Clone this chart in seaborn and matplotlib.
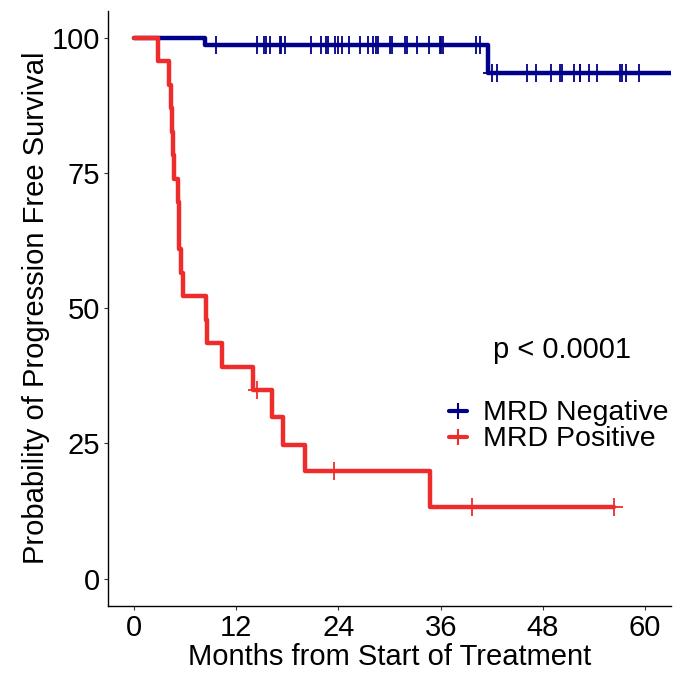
import numpy as np
import pandas as pd
import matplotlib
matplotlib.use("Agg")
import matplotlib.pyplot as plt
import seaborn as sns
from matplotlib.lines import Line2D

# ---------------- data ----------------
groups = ["MRD Negative", "MRD Positive"]
group_colors = ["#00008B", "#EE2C2C"]

neg_step_times = [0, 8.4, 41.6]
neg_step_surv = [100, 98.6, 93.4]
neg_end_time = 66.0
neg_censor_times = [9.6, 14.4, 15.3, 15.5, 16.0, 17.1, 17.3, 17.7, 20.8, 22.0,
                    22.5, 22.8, 23.6, 23.9, 24.4, 25.3, 26.5, 27.5, 28.1, 28.4,
                    28.7, 30.1, 30.3, 31.8, 32.0, 33.2, 34.6, 35.9, 36.1, 36.3,
                    40.1, 40.6, 42.0, 42.6, 46.1, 47.2, 48.9, 50.0, 50.3, 51.7,
                    52.3, 52.4, 53.4, 54.4, 57.0, 57.3, 57.7, 59.3]

pos_step_times = [0, 2.85, 4.1, 4.3, 4.5, 4.6, 4.7, 5.2, 5.25, 5.3, 5.5, 5.8,
                  8.45, 8.6, 10.3, 14.0, 16.2, 17.5, 20.1, 34.7]
pos_step_surv = [100, 95.7, 91.3, 87.0, 82.6, 78.3, 73.9, 69.6, 65.2, 60.9,
                 56.5, 52.2, 47.8, 43.5, 39.1, 34.8, 29.8, 24.8, 19.9, 13.3]
pos_end_time = 56.3
pos_censor_times = [14.4, 23.5, 39.7, 56.3]

x_ticks = [0, 12, 24, 36, 48, 60]
y_ticks = [0, 25, 50, 75, 100]
p_text = "p < 0.0001"
x_title = "Months from Start of Treatment"
y_title = "Probability of Progression Free Survival"

# ---------------- build tables ----------------
def step_frame(times, surv, end, name):
    t = list(times) + [end]
    s = list(surv) + [surv[-1]]
    return pd.DataFrame({"time": t, "surv": s, "group": name})

def censor_frame(ctimes, times, surv, name):
    idx = np.searchsorted(np.asarray(times), np.asarray(ctimes), side="right") - 1
    return pd.DataFrame({"time": ctimes, "surv": np.asarray(surv)[idx], "group": name})

steps = pd.concat([
    step_frame(neg_step_times, neg_step_surv, neg_end_time, groups[0]),
    step_frame(pos_step_times, pos_step_surv, pos_end_time, groups[1]),
], ignore_index=True)
cens = pd.concat([
    censor_frame(neg_censor_times, neg_step_times, neg_step_surv, groups[0]),
    censor_frame(pos_censor_times, pos_step_times, pos_step_surv, groups[1]),
], ignore_index=True)

palette = dict(zip(groups, group_colors))

# ---------------- plot ----------------
sns.set_theme(style="white")
plt.rcParams["font.family"] = ["Liberation Sans", "DejaVu Sans"]
plt.rcParams["text.color"] = "black"

W, H = 692, 678
fig = plt.figure(figsize=(W / 100, H / 100), dpi=100)
ax = fig.add_axes([108.3 / W, 1 - 605.7 / H, (670.7 - 108.3) / W, (605.7 - 10.7) / H])

sns.lineplot(data=steps, x="time", y="surv", hue="group", hue_order=groups,
             palette=palette, estimator=None, sort=False, drawstyle="steps-post",
             linewidth=3.2, legend=False, ax=ax)
for g in groups:
    sub = cens[cens["group"] == g]
    sns.scatterplot(data=sub, x="time", y="surv", color=palette[g], marker="+",
                    s=150, linewidth=1.3, legend=False, ax=ax, zorder=3)

ax.set_xlim(-3, 63)
ax.set_ylim(-5, 105)
ax.set_xticks(x_ticks)
ax.set_yticks(y_ticks)
ax.set_xlabel(x_title, fontsize=21, color="black", labelpad=1)
ax.set_ylabel(y_title, fontsize=21, color="black", labelpad=1.5)
ax.tick_params(axis="both", which="major", labelsize=21, labelcolor="black",
               length=2.7, width=0.8, color="#333333", pad=3.0, bottom=True, left=True)
for side in ["top", "right"]:
    ax.spines[side].set_visible(False)
for side in ["left", "bottom"]:
    ax.spines[side].set_color("black")
    ax.spines[side].set_linewidth(1.0)
ax.grid(False)

fig.text(562 / W, 1 - 350 / H, p_text, ha="center", va="center", fontsize=21,
         color="black")

handles = [Line2D([], [], color=c, lw=3.0, marker="+", markersize=12,
                  markeredgewidth=1.5) for c in group_colors]
ax.legend(handles, groups, loc="center left",
          bbox_to_anchor=(449.5 / W, 1 - 426.5 / H), bbox_transform=fig.transFigure,
          frameon=False, fontsize=20.5, handlelength=0.6, handletextpad=0.58,
          borderpad=0, borderaxespad=0, labelspacing=0.0, labelcolor="black")

fig.savefig("out.png", dpi=100)
